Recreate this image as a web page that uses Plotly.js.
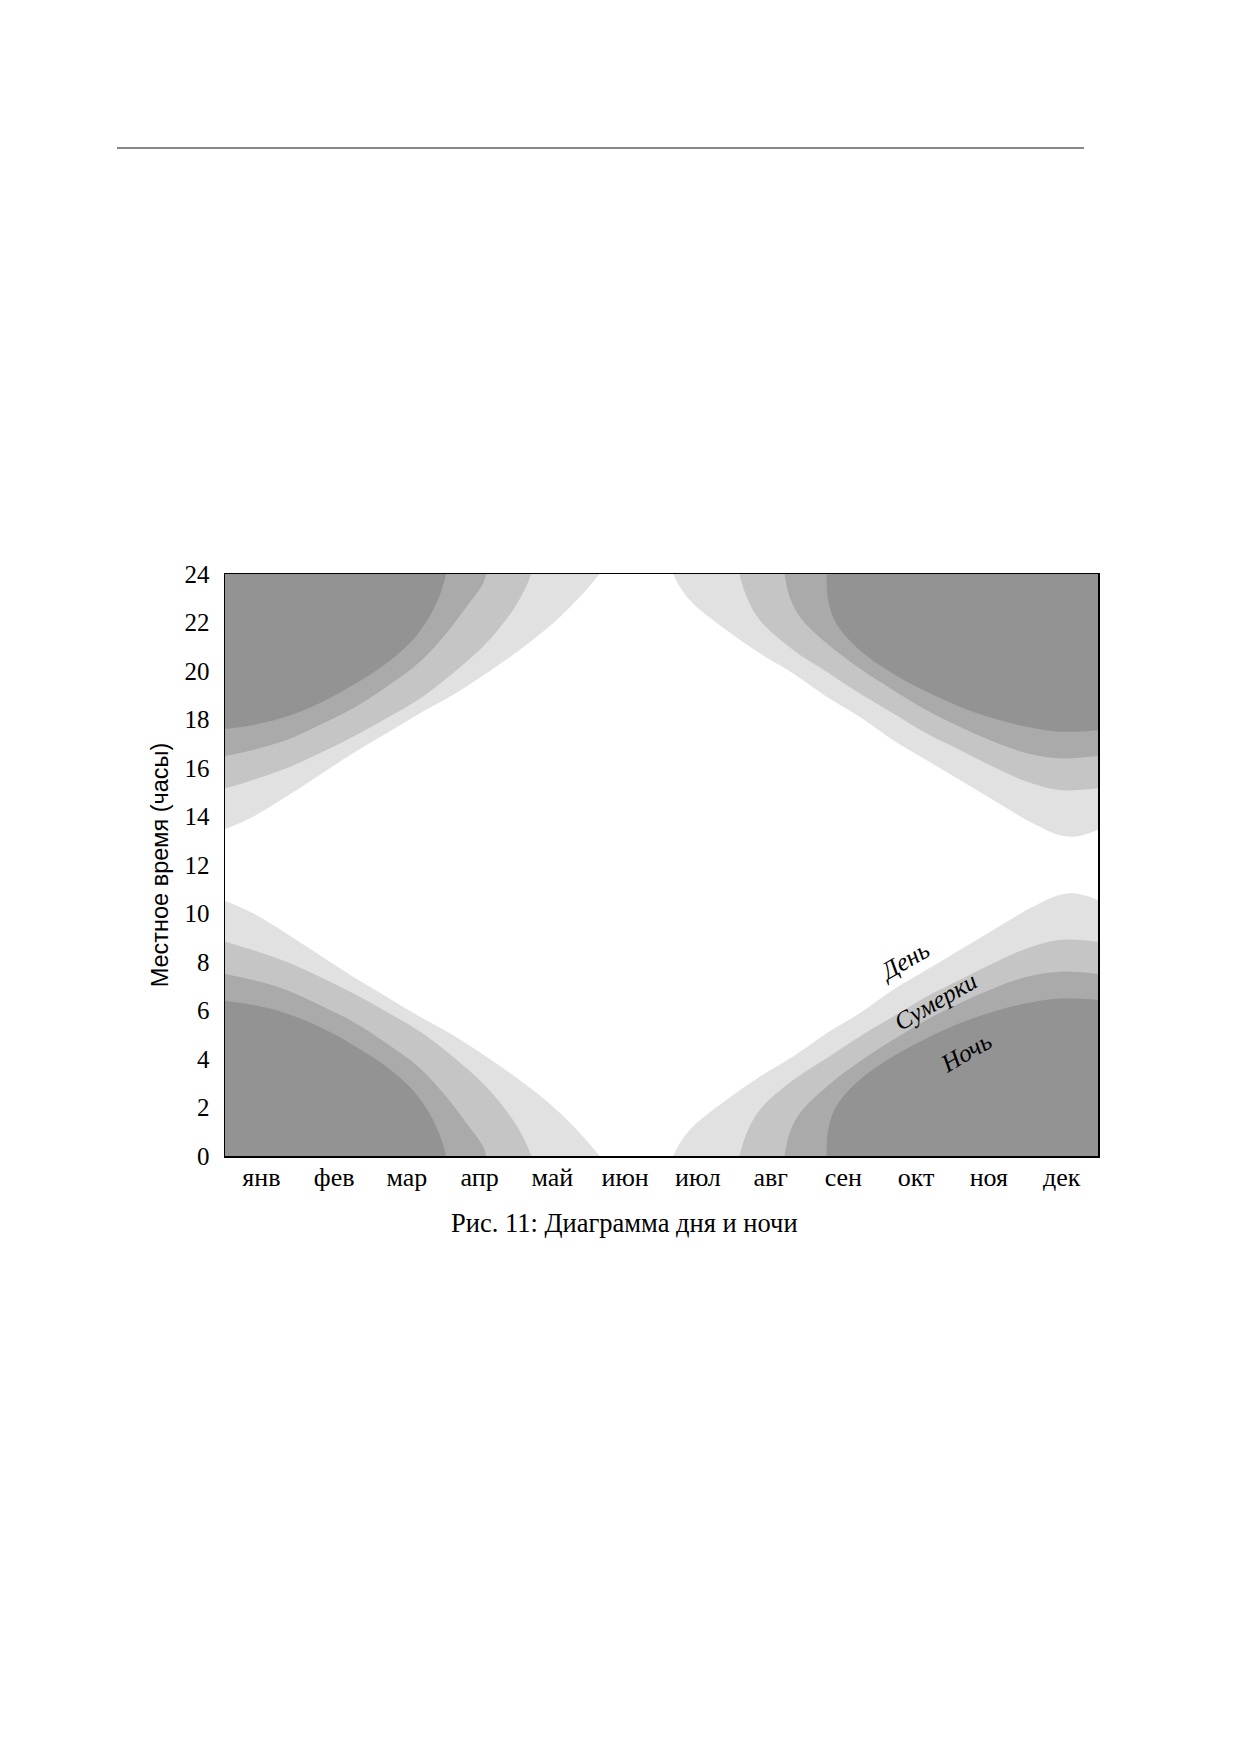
<!DOCTYPE html>
<html>
<head>
<meta charset="utf-8">
<script src="https://cdn.plot.ly/plotly-3.0.1.min.js"></script>
<style>
  html, body { margin: 0; padding: 0; background: #ffffff; }
  #chart { width: 1240px; height: 1754px; }
</style>
</head>
<body>
<div id="chart"></div>
<script>
// ---- axis labels ----
const monthLabels = ["янв", "фев", "мар", "апр", "май", "июн", "июл", "авг", "сен", "окт", "ноя", "дек"];
const monthCenters = [0.5, 1.5, 2.5, 3.5, 4.5, 5.5, 6.5, 7.5, 8.5, 9.5, 10.5, 11.5];
const hourTicks = [0, 2, 4, 6, 8, 10, 12, 14, 16, 18, 20, 22, 24];

// ---- boundaries (x = months from 1 Jan, y = local hour) ----
// left side (January ... June)
const civilLeftM = [0, 0.385, 0.844, 1.30, 1.76, 2.22, 2.68, 3.13, 3.59, 4.05, 4.51, 4.88, 5.15];
const civilMorningLeft = [10.53, 10.01, 9.18, 8.29, 7.39, 6.57, 5.74, 4.99, 4.10, 3.13, 2.03, 0.94, 0];
const civilEveningLeft = [13.47, 13.99, 14.82, 15.71, 16.61, 17.43, 18.26, 19.01, 19.90, 20.87, 21.97, 23.06, 24];

const nautLeftM = [0, 0.385, 0.844, 1.30, 1.76, 2.22, 2.68, 3.13, 3.59, 3.96, 4.14, 4.21];
const nautMorningLeft = [8.84, 8.49, 8.01, 7.39, 6.71, 5.95, 5.13, 4.10, 2.86, 1.48, 0.52, 0];
const nautEveningLeft = [15.16, 15.51, 15.99, 16.61, 17.29, 18.05, 18.87, 19.90, 21.14, 22.52, 23.48, 24];

const astroLeftM = [0, 0.385, 0.844, 1.30, 1.76, 2.22, 2.68, 3.04, 3.32, 3.55, 3.59];
const astroMorningLeft = [7.51, 7.26, 6.85, 6.23, 5.54, 4.65, 3.62, 2.45, 1.35, 0.38, 0];
const astroEveningLeft = [16.49, 16.74, 17.15, 17.77, 18.46, 19.35, 20.38, 21.55, 22.65, 23.62, 24];

const nightLeftM = [0, 0.385, 0.844, 1.30, 1.76, 2.22, 2.58, 2.81, 2.96, 3.04];
const nightMorningLeft = [6.39, 6.23, 5.88, 5.33, 4.58, 3.68, 2.72, 1.76, 0.80, 0];
const nightEveningLeft = [17.61, 17.77, 18.12, 18.67, 19.42, 20.32, 21.28, 22.24, 23.20, 24];

// right side (July ... December)
const civilRightM = [6.16, 6.25, 6.43, 6.89, 7.35, 7.81, 8.27, 8.72, 9.18, 9.64, 10.10, 10.56, 11.02, 11.47, 11.70, 12];
const civilMorningRight = [0, 0.52, 1.21, 2.31, 3.27, 4.10, 5.06, 5.88, 6.85, 7.67, 8.49, 9.32, 10.14, 10.76, 10.82, 10.56];
const civilEveningRight = [24, 23.48, 22.79, 21.69, 20.73, 19.90, 18.94, 18.12, 17.15, 16.33, 15.51, 14.68, 13.86, 13.24, 13.18, 13.44];

const nautRightM = [7.07, 7.17, 7.35, 7.81, 8.27, 8.72, 9.18, 9.64, 10.10, 10.56, 11.02, 11.47, 12];
const nautMorningRight = [0, 0.94, 1.90, 3.13, 4.03, 4.92, 5.74, 6.57, 7.26, 7.95, 8.56, 8.91, 8.84];
const nautEveningRight = [24, 23.06, 22.10, 20.87, 19.97, 19.08, 18.26, 17.43, 16.74, 16.05, 15.44, 15.09, 15.16];

const astroRightM = [7.69, 7.76, 7.90, 8.27, 8.72, 9.18, 9.64, 10.10, 10.56, 11.02, 11.47, 12];
const astroMorningRight = [0, 0.94, 1.76, 2.86, 3.89, 4.78, 5.61, 6.30, 6.91, 7.39, 7.60, 7.51];
const astroEveningRight = [24, 23.06, 22.24, 21.14, 20.11, 19.22, 18.39, 17.70, 17.09, 16.61, 16.40, 16.49];

const nightRightM = [8.27, 8.29, 8.40, 8.72, 9.18, 9.64, 10.10, 10.56, 11.02, 11.47, 12];
const nightMorningRight = [0, 1.07, 2.03, 3.13, 4.10, 4.85, 5.47, 5.95, 6.30, 6.50, 6.44];
const nightEveningRight = [24, 22.93, 21.97, 20.87, 19.90, 19.15, 18.53, 18.05, 17.70, 17.50, 17.56];

// ---- region labels ----
const regionLabels = ["День", "Сумерки", "Ночь"];
const regionLabelM = [9.34, 9.76, 10.18];
const regionLabelH = [8.05, 6.38, 4.25];

const captionText = "Рис. 11: Диаграмма дня и ночи";
const yTitle = "Местное время (часы)";

// ---- styles ----
const HOUR_MAX = 24;
const colors = { civil: "#e1e1e1", naut: "#c5c5c5", astro: "#aaaaaa", night: "#939393" };
const serif = "Liberation Serif, Times New Roman, serif";

const bands = [
  { color: colors.civil, lm: civilLeftM, lmo: civilMorningLeft, lev: civilEveningLeft, rm: civilRightM, rmo: civilMorningRight, rev: civilEveningRight },
  { color: colors.naut, lm: nautLeftM, lmo: nautMorningLeft, lev: nautEveningLeft, rm: nautRightM, rmo: nautMorningRight, rev: nautEveningRight },
  { color: colors.astro, lm: astroLeftM, lmo: astroMorningLeft, lev: astroEveningLeft, rm: astroRightM, rmo: astroMorningRight, rev: astroEveningRight },
  { color: colors.night, lm: nightLeftM, lmo: nightMorningLeft, lev: nightEveningLeft, rm: nightRightM, rmo: nightMorningRight, rev: nightEveningRight }
];

const lineStyle = { width: 0, shape: "spline", smoothing: 1.0 };
const traces = [];
bands.forEach(b => {
  // morning lobes: filled down to 0 h
  [[b.lm, b.lmo], [b.rm, b.rmo]].forEach(([xs, ys]) => {
    traces.push({ type: "scatter", mode: "lines", x: xs, y: ys, fill: "tozeroy",
      fillcolor: b.color, line: Object.assign({ color: b.color }, lineStyle), hoverinfo: "skip", showlegend: false });
  });
  // evening lobes: filled up to 24 h
  [[b.lm, b.lev], [b.rm, b.rev]].forEach(([xs, ys]) => {
    traces.push({ type: "scatter", mode: "lines", x: xs, y: xs.map(() => HOUR_MAX),
      line: { width: 0, color: b.color }, hoverinfo: "skip", showlegend: false });
    traces.push({ type: "scatter", mode: "lines", x: xs, y: ys, fill: "tonexty",
      fillcolor: b.color, line: Object.assign({ color: b.color }, lineStyle), hoverinfo: "skip", showlegend: false });
  });
});

const W = 1240, H = 1754;
const L = 225, R = 142, T = 574, B = 598;
const pw = W - L - R, ph = H - T - B;
const px = X => (X - L) / pw;
const py = Y => (H - B - Y) / ph;

const annotations = regionLabels.map((t, i) => ({
  x: regionLabelM[i], y: regionLabelH[i], xref: "x", yref: "y",
  text: "<i>" + t + "</i>", showarrow: false, textangle: -30,
  font: { family: serif, size: 25, color: "#000" }, xanchor: "center", yanchor: "middle"
}));
annotations.push({
  x: px(624), y: py(1223), xref: "paper", yref: "paper", text: captionText,
  showarrow: false, xanchor: "center", yanchor: "middle",
  font: { family: serif, size: 26.5, color: "#000" }
});

const layout = {
  width: W, height: H,
  margin: { l: L, r: R, t: T, b: B, pad: 0 },
  paper_bgcolor: "#ffffff", plot_bgcolor: "#ffffff",
  showlegend: false,
  xaxis: {
    range: [0, 12], tickmode: "array", tickvals: monthCenters, ticktext: monthLabels,
    showgrid: false, zeroline: false, showline: true, mirror: true,
    linecolor: "#000", linewidth: 1.5, ticks: "", ticklabelstandoff: -3,
    tickfont: { family: serif, size: 26, color: "#000" }
  },
  yaxis: {
    range: [0, 24], tickmode: "array", tickvals: hourTicks,
    showgrid: false, zeroline: false, showline: true, mirror: true,
    linecolor: "#000", linewidth: 1.5, ticks: "outside", ticklen: 9, tickcolor: "rgba(0,0,0,0)",
    tickfont: { family: serif, size: 25, color: "#000" },
    title: { text: yTitle, standoff: 9, font: { family: "Liberation Sans, Arial, sans-serif", size: 23.5, color: "#000" } }
  },
  shapes: [{
    type: "line", xref: "paper", yref: "paper",
    x0: px(117), x1: px(1084), y0: py(148), y1: py(148),
    line: { color: "#111", width: 1 }
  }],
  annotations: annotations
};

Plotly.newPlot("chart", traces, layout, { staticPlot: true, displayModeBar: false });
</script>
</body>
</html>
